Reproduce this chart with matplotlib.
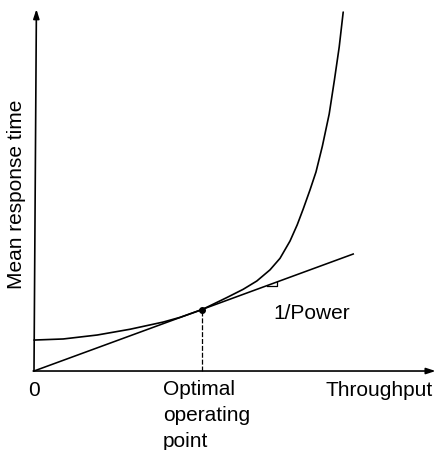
import matplotlib
matplotlib.use("Agg")
import matplotlib.pyplot as plt

plt.rcParams['font.family'] = ['Liberation Sans', 'DejaVu Sans']

# Response-time curve (throughput, mean response time)
curve_x = [0.0, 0.73, 1.58, 2.40, 3.23, 3.65, 4.19, 4.82, 5.23, 5.57, 5.90,
           6.15, 6.40, 6.58, 6.73, 6.90, 7.05, 7.21, 7.38, 7.51, 7.63, 7.73]
curve_y = [0.86, 0.89, 1.00, 1.16, 1.36, 1.49, 1.70, 2.04, 2.27, 2.50, 2.81,
           3.13, 3.61, 4.06, 4.50, 5.03, 5.53, 6.25, 7.14, 8.08, 9.00, 9.97]

# Tangent line through the origin (slope = 1/Power)
tangent_x = [0.0, 7.98]
tangent_y = [0.0, 3.25]

# Optimal operating point
opt_x = 4.19
opt_y = 1.70

fig = plt.figure(figsize=(4.36, 4.50), dpi=100)
ax = fig.add_axes([0, 0, 1, 1])
ax.set_xlim(-0.85, 10.05)
ax.set_ylim(-2.194, 10.306)
ax.axis('off')

# Axes with arrows
arrow = dict(arrowstyle='-|>,head_length=0.55,head_width=0.18', lw=1.2,
             color='black', shrinkA=0, shrinkB=0)
ax.annotate('', xy=(0.06, 10.05), xytext=(0.0, 0.0), arrowprops=arrow)
ax.annotate('', xy=(10.04, 0.0), xytext=(-0.02, 0.0), arrowprops=arrow)

# Curve and tangent
ax.plot(curve_x, curve_y, color='black', lw=1.2, solid_joinstyle='round',
        solid_capstyle='round')
ax.plot(tangent_x, tangent_y, color='black', lw=1.15)

# Optimal point and dashed drop line
ax.plot([opt_x, opt_x], [0, opt_y], color='black', lw=0.9, ls=(0, (4, 1.5)))
ax.plot([opt_x], [opt_y], 'o', color='black', ms=4)

# Slope triangle
slope = tangent_y[1] / tangent_x[1]
tx1 = 6.08
ty0 = 2.375
tx0 = ty0 / slope
ax.plot([tx0, tx1, tx1], [ty0, ty0, slope * tx1], color='black', lw=0.9)

fs = 15
ax.text(0.0, -0.53, '0', ha='center', va='center', fontsize=fs)
ax.text(3.225, -0.25, 'Optimal\noperating\npoint', ha='left', va='top',
        fontsize=fs, linespacing=1.45)
ax.text(7.275, -0.53, 'Throughput', ha='left', va='center', fontsize=fs)
ax.text(5.975, 1.60, '1/Power', ha='left', va='center', fontsize=fs)
ax.text(-0.43, 4.92, 'Mean response time', ha='center', va='center',
        rotation=90, fontsize=fs)

fig.savefig('out.png', dpi=100)
